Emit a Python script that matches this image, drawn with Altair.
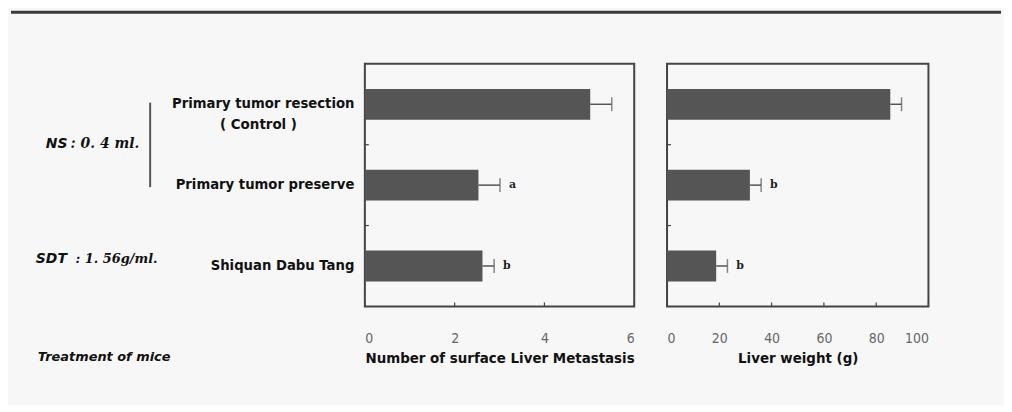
import altair as alt
import pandas as pd

# ---- data ----
categories = ["Primary tumor resection", "Primary tumor preserve", "Shiquan Dabu Tang"]
control_note = "( Control )"
metastasis = [5.02, 2.53, 2.62]
metastasis_err = [0.48, 0.48, 0.26]
metastasis_sig = ["", "a", "b"]
liver_weight = [85.4, 31.7, 18.8]
liver_weight_err = [4.3, 4.3, 4.3]
liver_weight_sig = ["", "b", "b"]
metastasis_ticks = [0, 2, 4, 6]
liver_ticks = [0, 20, 40, 60, 80, 100]
metastasis_title = "Number of surface Liver Metastasis"
liver_title = "Liver weight (g)"
row_title = "Treatment of mice"
group_labels = [("NS", ": 0. 4 ml."), ("SDT", ": 1. 56g/ml.")]

df = pd.DataFrame({
    "cat": categories,
    "met": metastasis,
    "met_hi": [v + e for v, e in zip(metastasis, metastasis_err)],
    "met_sig": metastasis_sig,
    "lw": liver_weight,
    "lw_hi": [v + e for v, e in zip(liver_weight, liver_weight_err)],
    "lw_sig": liver_weight_sig,
})

BAR = "#555555"
FRAME = "#444444"
BOLD_FONT = "DejaVu Sans"
TICK_FONT = "Liberation Sans Narrow, DejaVu Sans Condensed, Liberation Sans"

PLOT_H = 244


def panel(val, hi, sig, domain, ticks, title, width, show_labels):
    base = alt.Chart(df)
    yscale = alt.Scale(paddingInner=0, paddingOuter=0)
    if show_labels:
        yaxis = alt.Axis(title=None, ticks=False, domain=False, labelPadding=11,
                         labelFont=BOLD_FONT, labelFontWeight="bold", labelFontSize=13.3,
                         labelColor="#111111", labelLimit=400)
    else:
        yaxis = None
    y = alt.Y("cat:N", sort=categories, scale=yscale, axis=yaxis)
    y_b = alt.Y("cat:N", sort=categories, scale=yscale, axis=yaxis, bandPosition=0)
    xscale = alt.Scale(domain=domain, nice=False, zero=True)
    xaxis = alt.Axis(values=ticks, title=title, ticks=False, domain=False, grid=False,
                     labelFont=TICK_FONT, labelFontSize=14, labelColor="#666666",
                     labelPadding=25, titleFont=BOLD_FONT, titleFontSize=13.5,
                     titleFontWeight="bold", titleColor="#111111", titlePadding=6)

    bars = base.mark_bar(height=31, color=BAR).encode(
        x=alt.X(f"{val}:Q", scale=xscale, axis=xaxis), y=y)
    err = base.mark_rule(color=BAR, strokeWidth=1.5).encode(
        x=alt.X(f"{val}:Q", scale=xscale, axis=xaxis), x2=f"{hi}:Q", y=y)
    cap = base.mark_tick(color=BAR, thickness=1.5, size=14).encode(
        x=alt.X(f"{hi}:Q", scale=xscale, axis=xaxis), y=y)
    sig_text = base.mark_text(align="left", baseline="middle", dx=9, font="DejaVu Serif",
                              fontWeight="bold", fontSize=11, color="#222222").encode(
        x=alt.X(f"{hi}:Q", scale=xscale, axis=xaxis), y=y, text=f"{sig}:N")
    bounds = base.transform_filter(alt.datum.cat != categories[0]).mark_rule(
        color=FRAME, strokeWidth=1.2).encode(
        y=y_b, x=alt.value(0), x2=alt.value(4))
    xt = alt.Chart(pd.DataFrame({"t": ticks})).mark_rule(color=FRAME, strokeWidth=1.2).encode(
        x=alt.X("t:Q", scale=xscale, axis=xaxis), y=alt.value(PLOT_H), y2=alt.value(PLOT_H - 4))
    layers = [bars, err, cap, sig_text, bounds, xt]
    if show_labels:
        note = base.transform_filter(alt.datum.cat == categories[0]).mark_text(
            align="center", baseline="middle", dy=21, font=BOLD_FONT, fontWeight="bold",
            fontSize=13.5, color="#111111").encode(
            y=y, x=alt.value(-107), text=alt.value(control_note))
        layers.append(note)
    return alt.layer(*layers).properties(width=width, height=PLOT_H)


left = panel("met", "met_hi", "met_sig", [0, 6], metastasis_ticks, metastasis_title, 271, True)
right = panel("lw", "lw_hi", "lw_sig", [0, 100], liver_ticks, liver_title, 263, False)

# ---- annotation panel (left side text) ----
one = alt.Data(values=[{"k": 0}])


def txt(x, y, s, align="left", font=BOLD_FONT, weight="bold", size=13):
    return alt.Chart(one).mark_text(align=align, baseline="middle", font=font,
                                    fontStyle="italic", fontWeight=weight, fontSize=size,
                                    color="#111111").encode(
        x=alt.value(x), y=alt.value(y), text=alt.value(s))


ann = [
    alt.Chart(one).mark_rule(color="#3a3a3a", strokeWidth=3).encode(
        x=alt.value(-22), x2=alt.value(974), y=alt.value(-52)),
    txt(13, 81, group_labels[0][0], size=14),
    txt(38, 81, group_labels[0][1], font="DejaVu Serif", size=14),
    txt(3, 196, group_labels[1][0], size=14),
    txt(43, 196, group_labels[1][1], font="DejaVu Serif", size=13),
    alt.Chart(one).mark_rule(color="#555555", strokeWidth=2).encode(
        x=alt.value(118), y=alt.value(39), y2=alt.value(124)),
    txt(5, 295, row_title, size=13),
]
annot = alt.layer(*ann).properties(width=301, height=PLOT_H,
                                   view=alt.ViewBackground(stroke="transparent"))

chart = alt.hconcat(annot, left, right, spacing=33, bounds="flush").properties(
    background="#f7f7f7",
    padding={"left": 0, "top": 0, "right": 0, "bottom": 38},
).configure_view(stroke=FRAME, strokeWidth=2)

chart.save("out.html", embed_options={"renderer": "svg", "actions": False})
